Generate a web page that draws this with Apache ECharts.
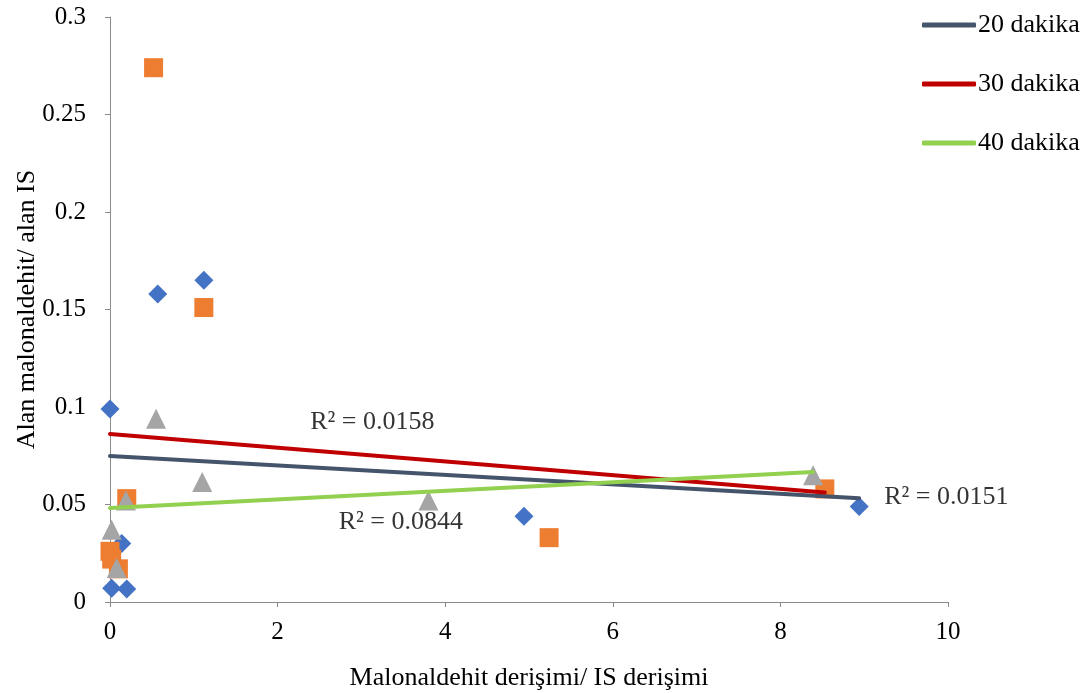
<!DOCTYPE html>
<html>
<head>
<meta charset="utf-8">
<script src="https://cdn.jsdelivr.net/npm/echarts@6/dist/echarts.min.js"></script>
<style>html,body{margin:0;padding:0;background:#fff;}#c{width:1088px;height:693px;}</style>
</head>
<body>
<div id="c"></div>
<script>
// Scatter data [x, y]
const pts20 = [[0.0, 0.099], [0.57, 0.158], [1.12, 0.165], [4.94, 0.044], [8.94, 0.049], [0.02, 0.007], [0.2, 0.0067], [0.14, 0.030]];
const pts30 = [[0.52, 0.274], [1.12, 0.151], [0.2, 0.053], [0.0, 0.026], [0.02, 0.022], [0.1, 0.017], [5.24, 0.033], [8.53, 0.058]];
const pts40 = [[0.55, 0.094], [1.1, 0.0615], [0.19, 0.052], [3.8, 0.052], [8.39, 0.065], [0.02, 0.037], [0.08, 0.0175]];
// Linear trend lines (endpoints)
const trend20 = [[0.0, 0.0749], [8.94, 0.0532]];
const trend30 = [[0.0, 0.0862], [8.53, 0.0562]];
const trend40 = [[0.0, 0.0482], [8.39, 0.0667]];
const seriesNames = ['20 dakika', '30 dakika', '40 dakika'];
const r2Labels = ['R² = 0.0151', 'R² = 0.0158', 'R² = 0.0844'];
const xTicks = [0, 2, 4, 6, 8, 10];
const yTicks = [0, 0.05, 0.1, 0.15, 0.2, 0.25, 0.3];

const FONT = '"Liberation Serif", "Times New Roman", serif';
const chart = echarts.init(document.getElementById('c'));

function scatter(name, data, symbol, size, color) {
  return { name: name, type: 'scatter', data: data, symbol: symbol, symbolSize: size,
    itemStyle: { color: color, opacity: 1 }, z: 2, silent: true };
}
function trend(name, data, color) {
  return { name: name, type: 'line', data: data, symbol: 'none', showSymbol: false,
    lineStyle: { color: color, width: 4, cap: 'round' }, itemStyle: { color: color }, z: 3, silent: true };
}
function rlabel(text, pos) {
  return { type: 'scatter', data: [pos], symbolSize: 0, silent: true, z: 4,
    label: { show: true, position: 'inside', formatter: text, color: '#000', fontFamily: FONT, fontSize: 26 } };
}

chart.setOption({
  animation: false,
  backgroundColor: '#fff',
  grid: { left: 110, right: 140, top: 17, bottom: 91, containLabel: false, outerBoundsMode: 'none' },
  legend: {
    data: seriesNames,
    orient: 'vertical', left: 917, top: 7,
    icon: 'roundRect',
    itemWidth: 54, itemHeight: 5, itemGap: 33,
    textStyle: { fontFamily: FONT, fontSize: 26, color: '#000', padding: [0, 0, 0, -3] }
  },
  xAxis: {
    type: 'value', min: xTicks[0], max: xTicks[xTicks.length - 1], interval: 2,
    name: 'Malonaldehit derişimi/ IS derişimi', nameLocation: 'middle', nameGap: 63,
    nameMoveOverlap: false,
    nameTextStyle: { fontFamily: FONT, fontSize: 26, color: '#000' },
    axisLine: { lineStyle: { color: '#8a8a8a', width: 1 } },
    axisTick: { show: true, length: 5, lineStyle: { color: '#8a8a8a' } },
    axisLabel: { fontFamily: FONT, fontSize: 25, color: '#000', margin: 18 },
    splitLine: { show: false }
  },
  yAxis: {
    type: 'value', min: yTicks[0], max: yTicks[yTicks.length - 1], interval: 0.05,
    name: 'Alan malonaldehit/ alan IS', nameLocation: 'middle', nameGap: 70,
    nameMoveOverlap: false,
    nameTextStyle: { fontFamily: FONT, fontSize: 26, color: '#000' },
    axisLine: { show: true, lineStyle: { color: '#8a8a8a', width: 1 } },
    axisTick: { show: true, length: 5, lineStyle: { color: '#8a8a8a' } },
    axisLabel: { fontFamily: FONT, fontSize: 25, color: '#000', margin: 24 },
    splitLine: { show: false }
  },
  series: [
    scatter('p20', pts20, 'diamond', 19, '#4472C4'),
    scatter('p30', pts30, 'rect', 19, '#ED7D31'),
    scatter('p40', pts40, 'triangle', 20, '#A5A5A5'),
    trend(seriesNames[0], trend20, '#44546A'),
    trend(seriesNames[1], trend30, '#C00000'),
    trend(seriesNames[2], trend40, '#92D050'),
    rlabel(r2Labels[0], [9.98, 0.0538]),
    rlabel(r2Labels[1], [3.13, 0.0923]),
    rlabel(r2Labels[2], [3.47, 0.041])
  ]
});
</script>
</body>
</html>
